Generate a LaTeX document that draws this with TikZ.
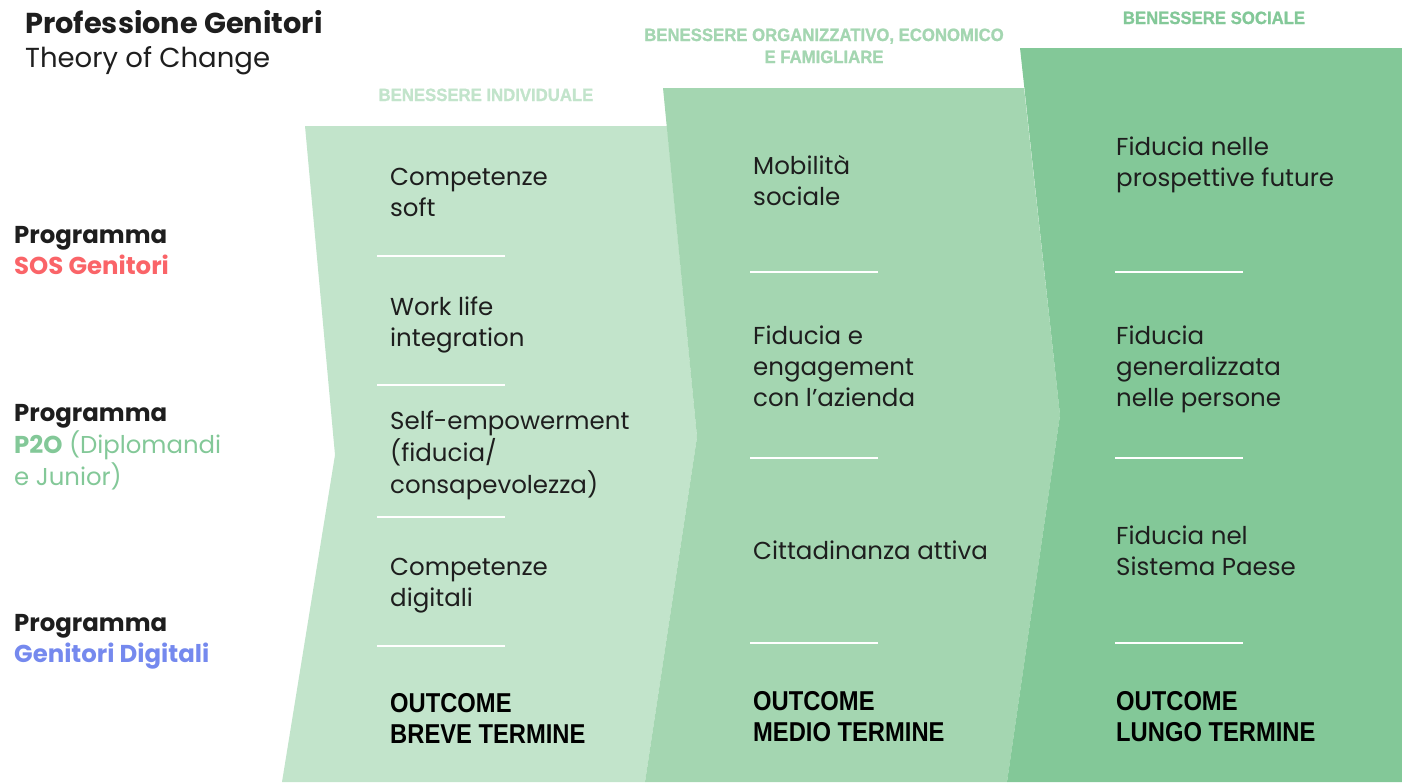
\documentclass[tikz,border=0pt]{standalone}
\usepackage{fontspec}
\setmainfont{Poppins}
\newfontfamily\condfont[FakeStretch=0.87]{Liberation Sans}
\newfontfamily\headfont[FakeStretch=0.94, BoldFeatures={FakeBold=1.2}]{Liberation Sans}
\definecolor{gA}{HTML}{C2E4CB}
\definecolor{gB}{HTML}{A4D6B1}
\definecolor{gC}{HTML}{83C898}
\definecolor{redP}{HTML}{FA6468}
\definecolor{blueP}{HTML}{7589EE}
\definecolor{ink}{HTML}{1E1E1E}
\newcommand\mlines[1]{\begin{tabular}[t]{@{}l@{}}#1\end{tabular}}
\tikzset{
  body/.style={anchor=base west, inner sep=0pt, text=ink, font=\fontsize{24.5}{31}\selectfont},
  outc/.style={anchor=base west, inner sep=0pt, text=black, font=\condfont\bfseries\fontsize{27.3}{31}\selectfont},
  head/.style={anchor=base, inner sep=0pt, font=\headfont\bfseries\fontsize{17.8}{22}\selectfont, align=center},
  prog/.style={anchor=base west, inner sep=0pt, font=\fontsize{24.4}{31}\selectfont},
  sep/.style={white, line width=2.5pt},
}
\begin{document}
\begin{tikzpicture}[x=1pt,y=-1pt]
\useasboundingbox (0,0) rectangle (1402,782);
% chevron bands
\fill[gA] (305,126) -- (667,126) -- (697,437) -- (645,782) -- (282,782) -- (335,455) -- cycle;
\fill[gB] (663,88) -- (1024,88) -- (1060,415) -- (1007,782) -- (645,782) -- (697,437) -- cycle;
\fill[gC] (1020,48) -- (1402,48) -- (1402,782) -- (1007,782) -- (1060,415) -- cycle;
% title
\node[anchor=base west, inner sep=0pt, text=ink, font=\bfseries\fontsize{28.8}{31}\selectfont] (title) at (25,33) {Professione Genitori};
\node[anchor=base west, inner sep=0pt, text=ink, font=\fontsize{27.5}{31}\selectfont] (subtitle) at (25,67) {Theory of Change};
% headers
\node[head, text=gA] (h1) at (486,101) {BENESSERE INDIVIDUALE};
\node[head, text=gB] (h2) at (824,63) {BENESSERE ORGANIZZATIVO, ECONOMICO\\E FAMIGLIARE};
\node[head, text=gC] (h3) at (1214,24) {BENESSERE SOCIALE};
% left programmes
\node[prog] (p1) at (14,243) {\mlines{\textbf{\color{ink}Programma}\\\textbf{\color{redP}SOS Genitori}}};
\node[prog] (p2) at (14,421) {\mlines{\textbf{\color{ink}Programma}\\\color{gC}\textbf{P2O} (Diplomandi\\\color{gC}e Junior)}};
\node[prog] (p3) at (14,631) {\mlines{\textbf{\color{ink}Programma}\\\textbf{\color{blueP}Genitori Digitali}}};
% column 1
\node[body] (c1a) at (390,185) {\mlines{Competenze\\soft}};
\node[body] (c1b) at (390,315) {\mlines{Work life\\integration}};
\node[body] (c1c) at (390,429) {\mlines{Self-empowerment\\(fiducia/\\consapevolezza)}};
\node[body] (c1d) at (390,575) {\mlines{Competenze\\digitali}};
\node[outc] (c1o) at (390,712) {\mlines{OUTCOME\\BREVE TERMINE}};
\foreach \y in {256,385,517,646} \draw[sep] (377,\y) -- (505,\y);
% column 2
\node[body] (c2a) at (753,174) {\mlines{Mobilità\\sociale}};
\node[body] (c2b) at (753,344) {\mlines{Fiducia e\\engagement\\con l’azienda}};
\node[body] (c2c) at (753,559) {Cittadinanza attiva};
\node[outc] (c2o) at (753,710) {\mlines{OUTCOME\\MEDIO TERMINE}};
\foreach \y in {272,458,643} \draw[sep] (750,\y) -- (878,\y);
% column 3
\node[body] (c3a) at (1116,155) {\mlines{Fiducia nelle\\prospettive future}};
\node[body] (c3b) at (1116,344) {\mlines{Fiducia\\generalizzata\\nelle persone}};
\node[body] (c3c) at (1116,544) {\mlines{Fiducia nel\\Sistema Paese}};
\node[outc] (c3o) at (1116,710) {\mlines{OUTCOME\\LUNGO TERMINE}};
\foreach \y in {272,458,643} \draw[sep] (1115,\y) -- (1243,\y);
\end{tikzpicture}
\end{document}
